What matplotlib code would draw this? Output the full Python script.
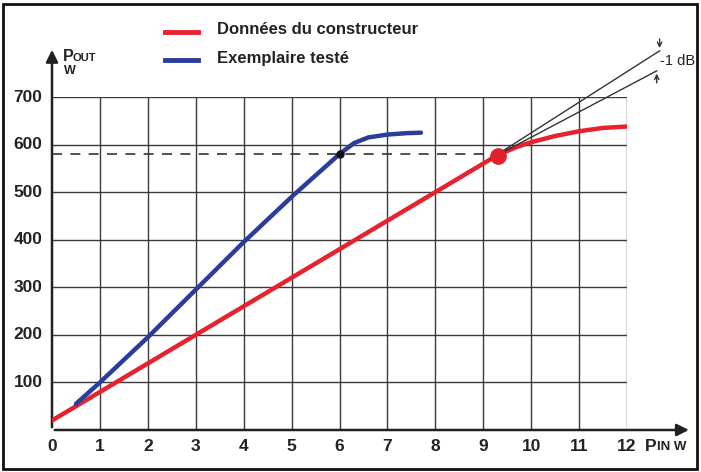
import matplotlib.pyplot as plt
from matplotlib.patches import Rectangle

# courbe constructeur (rouge)
red_x = [0, 1, 2, 3, 4, 5, 6, 7, 8, 9, 9.3, 9.7, 10, 10.5, 11, 11.5, 12]
red_y = [20, 80, 140, 200, 260, 320, 380, 440, 500, 560, 578, 595, 605, 618, 628, 635, 638]

# exemplaire teste (bleu)
blue_x = [0.5, 1, 2, 3, 4, 5, 6, 6.3, 6.6, 7, 7.4, 7.7]
blue_y = [55, 100, 195, 295, 395, 490, 580, 603, 615, 621, 624, 625]

comp_point = (9.3, 576)
knee_point = (6, 580)
ref_level = 580
x_ticks = list(range(0, 13))
y_ticks = [100, 200, 300, 400, 500, 600, 700]

plt.rcParams['font.family'] = ['Liberation Sans', 'DejaVu Sans']
txt = dict(fontweight='bold', color='#222222')

fig = plt.figure(figsize=(7.01, 4.72), dpi=100)
ax = fig.add_axes([52 / 701, 42 / 472, 575 / 701, 333 / 472])
ax.set_xlim(0, 12)
ax.set_ylim(0, 700)
for s in ax.spines.values():
    s.set_visible(False)
ax.set_xticks([])
ax.set_yticks([])

# grille
for x in range(1, 13):
    ax.plot([x, x], [0, 700], color='#3a3a3a', lw=1.0, zorder=1)
for y in y_ticks:
    ax.plot([0, 12], [y, y], color='#3a3a3a', lw=1.0, zorder=1)

# axes avec fleches
ax.annotate('', xy=(13.35, 0), xytext=(0, 0), annotation_clip=False,
            arrowprops=dict(arrowstyle='-|>', color='#222222', lw=1.8, mutation_scale=18))
ax.annotate('', xy=(0, 805), xytext=(0, 0), annotation_clip=False,
            arrowprops=dict(arrowstyle='-|>', color='#222222', lw=1.8, mutation_scale=18))

# graduations
for x in x_ticks:
    ax.text(x, -18, str(x), ha='center', va='top', fontsize=12.5, **txt)
for y in y_ticks:
    ax.text(-0.2, y, str(y), ha='right', va='center', fontsize=12.5, **txt)

ax.text(12.38, -18, 'P', ha='left', va='top', fontsize=12.5, clip_on=False, **txt)
ax.text(12.62, -23, 'IN W', ha='left', va='top', fontsize=9.5, clip_on=False, **txt)
ax.text(0.22, 800, 'P', ha='left', va='top', fontsize=11.5, clip_on=False, **txt)
ax.text(0.43, 792, 'OUT', ha='left', va='top', fontsize=8, clip_on=False, **txt)
ax.text(0.24, 768, 'W', ha='left', va='top', fontsize=9, clip_on=False, **txt)

# ligne pointillee de reference
ax.plot([0, 9.1], [ref_level, ref_level], color='#333333', lw=1.2, ls=(0, (6, 5)), zorder=2)

# courbes
ax.plot(red_x, red_y, color='#e8212e', lw=3.2, solid_capstyle='round', zorder=3)
ax.plot(blue_x, blue_y, color='#2b3d9b', lw=3.2, solid_capstyle='round', zorder=4)
ax.plot(*knee_point, 'o', color='#111111', ms=5, zorder=5)
ax.plot(*comp_point, 'o', color='#e0222c', ms=11, zorder=5)

# droites -1 dB
ax.plot([9.15, 12.68], [570, 797], color='#333333', lw=1.0, clip_on=False, zorder=4)
ax.plot([9.15, 12.62], [570, 755], color='#333333', lw=1.0, clip_on=False, zorder=4)
ax.annotate('', xy=(12.68, 797), xytext=(12.68, 828), annotation_clip=False,
            arrowprops=dict(arrowstyle='->', color='#333333', lw=1.0, mutation_scale=8))
ax.annotate('', xy=(12.62, 755), xytext=(12.62, 724), annotation_clip=False,
            arrowprops=dict(arrowstyle='->', color='#333333', lw=1.0, mutation_scale=8))
ax.text(12.68, 776, '-1 dB', ha='left', va='center', fontsize=10.5, color='#222222', clip_on=False)

# legende
fig.add_artist(plt.Line2D([165 / 701, 198 / 701], [1 - 32 / 472, 1 - 32 / 472], color='#e8212e', lw=3.5))
fig.add_artist(plt.Line2D([165 / 701, 198 / 701], [1 - 60 / 472, 1 - 60 / 472], color='#2b3d9b', lw=3.5))
fig.text(217 / 701, 1 - 30 / 472, 'Données du constructeur', ha='left', va='center', fontsize=12, **txt)
fig.text(217 / 701, 1 - 58 / 472, 'Exemplaire testé', ha='left', va='center', fontsize=12, **txt)

# cadre
fig.add_artist(Rectangle((3 / 701, 3 / 472), 694 / 701, 465 / 472, transform=fig.transFigure,
                         fill=False, edgecolor='#111111', lw=2))

fig.savefig('out.png', dpi=100)
